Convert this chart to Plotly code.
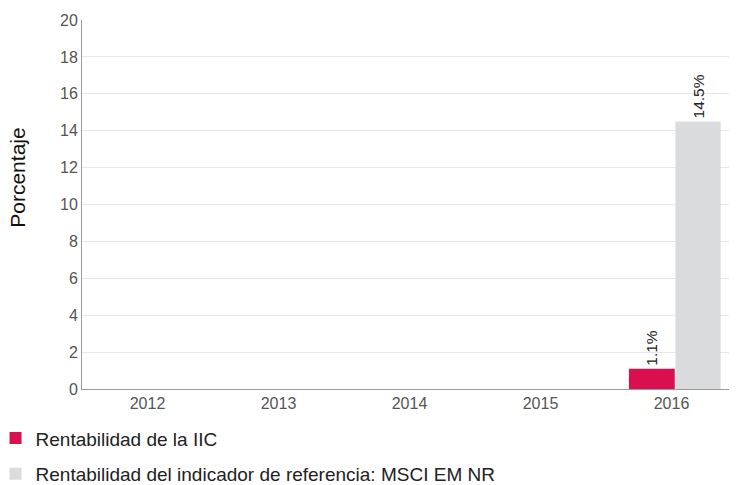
import plotly.graph_objects as go

years = ["2012", "2013", "2014", "2015", "2016"]
iic = [None, None, None, None, 1.1]
benchmark = [None, None, None, None, 14.5]
iic_labels = ["" if v is None else f"{v:.1f}%" for v in iic]
bench_labels = ["" if v is None else f"{v:.1f}%" for v in benchmark]
y_ticks = [0, 2, 4, 6, 8, 10, 12, 14, 16, 18, 20]

FONT = "Liberation Sans, Arial, sans-serif"

fig = go.Figure()
fig.add_trace(go.Bar(
    x=years, y=iic, name="Rentabilidad de la IIC", legendgroup="a",
    marker=dict(color="#d90f50", line=dict(color="#333333", width=0)),
    offset=-0.325, width=0.35,
    text=iic_labels, textposition="outside", textangle=-90,
    textfont=dict(size=15.5, color="#222222"), cliponaxis=False,
))
fig.add_trace(go.Bar(
    x=years, y=benchmark, name="Rentabilidad del indicador de referencia: MSCI EM NR",
    legendgroup="b",
    marker=dict(color="#dadbdd", line=dict(color="#333333", width=0)),
    offset=0.03, width=0.345,
    text=bench_labels, textposition="outside", textangle=-90,
    textfont=dict(size=15.5, color="#222222"), cliponaxis=False,
))

fig.update_layout(
    width=729, height=477,
    margin=dict(l=74, r=0, t=12, b=96, autoexpand=False),
    paper_bgcolor="white", plot_bgcolor="white",
    font=dict(family=FONT, color="#333333", size=15),
    barmode="group", bargap=0.3, bargroupgap=0,
    uniformtext=dict(minsize=15, mode="show"),
    showlegend=True,
    legend=dict(
        xref="paper", yref="paper", x=-0.132, y=-0.082,
        xanchor="left", yanchor="top",
        font=dict(size=19, color="#222222", family=FONT),
        tracegroupgap=8, itemwidth=30,
    ),
    xaxis=dict(
        type="category", showline=True, linecolor="#999999", linewidth=1,
        ticks="", tickfont=dict(size=16, color="#555555"), showgrid=False,
    ),
    yaxis=dict(
        range=[0, 20], tickvals=y_ticks, showline=True, linecolor="#999999",
        linewidth=1, gridcolor="#e6e6e6", ticks="", zeroline=False,
        tickfont=dict(size=16, color="#555555"),
    ),
    annotations=[dict(
        text="Porcentaje", xref="paper", yref="paper",
        x=-0.098, y=0.572, xanchor="center", yanchor="middle",
        textangle=-90, showarrow=False,
        font=dict(size=21, color="#111111", family=FONT),
    )],
)

fig.write_html("out.html")
